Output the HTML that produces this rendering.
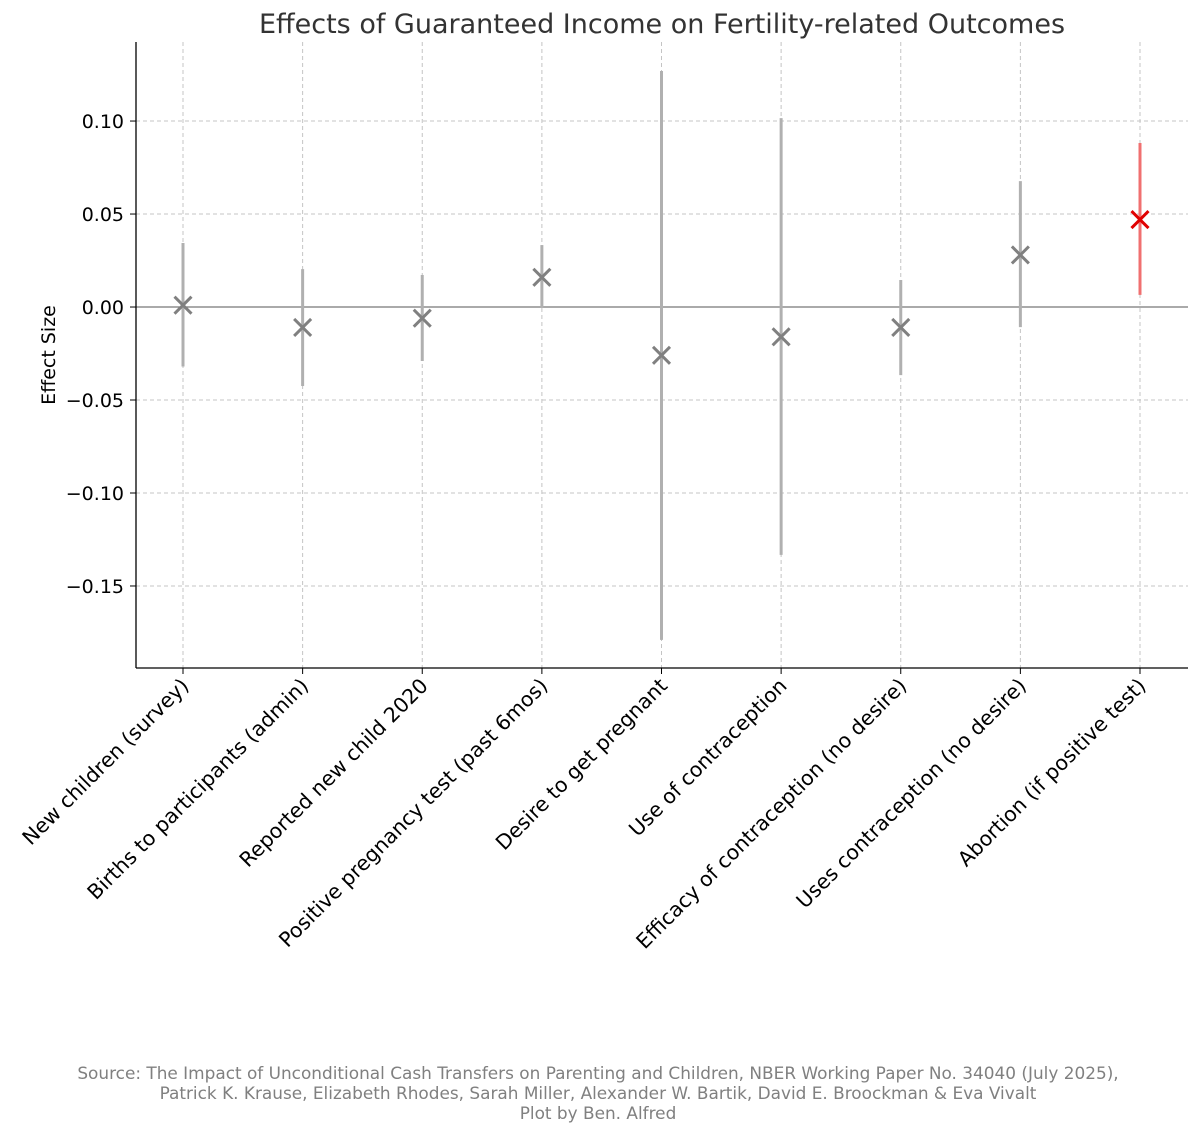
<!DOCTYPE html>
<html><head><meta charset="utf-8"><style>
body{margin:0;background:#fff;}
svg{display:block;font-family:"DejaVu Sans","Liberation Sans",sans-serif;}
</style></head><body>
<svg id="chart" width="1200" height="1134" viewBox="0 0 1200 1134">
<text x="662" y="33" text-anchor="middle" font-size="27" fill="#333">Effects of Guaranteed Income on Fertility-related Outcomes</text>
<g id="grid"></g><g id="marks"></g><g id="axes"></g>
<text transform="translate(55,355) rotate(-90)" text-anchor="middle" font-size="19" fill="#000">Effect Size</text>
<g fill="#808080" font-size="16.9" text-anchor="middle">
<text x="598" y="1079">Source: The Impact of Unconditional Cash Transfers on Parenting and Children, NBER Working Paper No. 34040 (July 2025),</text>
<text x="598" y="1099">Patrick K. Krause, Elizabeth Rhodes, Sarah Miller, Alexander W. Bartik, David E. Broockman &amp; Eva Vivalt</text>
<text x="598" y="1119">Plot by Ben. Alfred</text>
</g>
</svg>
<script>
const categories=["New children (survey)","Births to participants (admin)","Reported new child 2020","Positive pregnancy test (past 6mos)","Desire to get pregnant","Use of contraception","Efficacy of contraception (no desire)","Uses contraception (no desire)","Abortion (if positive test)"];
const estimates=[0.001,-0.011,-0.006,0.016,-0.026,-0.016,-0.011,0.028,0.047];
const ciLow=[-0.032,-0.0425,-0.029,-0.0005,-0.179,-0.1333,-0.0366,-0.0108,0.0065];
const ciHigh=[0.0344,0.0204,0.0172,0.0333,0.1269,0.1016,0.0145,0.0677,0.0882];
const highlighted=[false,false,false,false,false,false,false,false,true];
const yTicks=[0.10,0.05,0.00,-0.05,-0.10,-0.15];
const yTickLabels=["0.10","0.05","0.00","\u22120.05","\u22120.10","\u22120.15"];

const L=136,R=1188,T=42,B=668;
const yMax=0.1425,yMin=-0.1941;
const y=v=>T+(yMax-v)/(yMax-yMin)*(B-T);
const x0=183,x1=1140;
const x=i=>x0+i*(x1-x0)/(categories.length-1);
const NS="http://www.w3.org/2000/svg";
function mk(tag,attrs,parent){const e=document.createElementNS(NS,tag);for(const k in attrs)e.setAttribute(k,attrs[k]);parent.appendChild(e);return e;}
const grid=document.getElementById('grid'),marks=document.getElementById('marks'),axes=document.getElementById('axes');

yTicks.forEach((t,i)=>{
  const g=mk('line',{x1:L,x2:R,y1:y(t),y2:y(t),stroke:'#c4c4c4','stroke-width':1,'stroke-dasharray':'4,3'},grid);
  
  
  mk('line',{x1:L-6,x2:L,y1:y(t),y2:y(t),stroke:'#000','stroke-width':1},axes);
  const tx=mk('text',{x:L-12,y:y(t)+7,'text-anchor':'end','font-size':19,fill:'#000'},axes);
  tx.textContent=yTickLabels[i];
  
  
});
categories.forEach((c,i)=>{
  const g=mk('line',{x1:x(i),x2:x(i),y1:T,y2:B,stroke:'#c4c4c4','stroke-width':1,'stroke-dasharray':'4,3'},grid);
  
  
  mk('line',{x1:x(i),x2:x(i),y1:B,y2:B+6,stroke:'#000','stroke-width':1},axes);
  const tx=mk('text',{'text-anchor':'end','font-size':20.5,fill:'#000',transform:`translate(${x(i)+7},${B+19}) rotate(-45)`},axes);
  tx.textContent=c;
  
  
});
const zl=mk('line',{x1:L,x2:R,y1:y(0),y2:y(0),stroke:'#777','stroke-width':1.3},grid);


const ya=mk('line',{x1:L,x2:L,y1:T,y2:B,stroke:'#000','stroke-width':1.3},axes);


const xa=mk('line',{x1:L,x2:R,y1:B,y2:B,stroke:'#000','stroke-width':1.3},axes);



categories.forEach((c,i)=>{
  const hi=highlighted[i];
  const bar=mk('line',{x1:x(i),x2:x(i),y1:y(ciHigh[i]),y2:y(ciLow[i]),stroke:hi?'#f07070':'#b0b0b0','stroke-width':3},marks);
  
  
  const px=x(i),py=y(estimates[i]),s=8.5;
  const m=mk('path',{d:`M${px-s},${py-s}L${px+s},${py+s}M${px-s},${py+s}L${px+s},${py-s}`,stroke:hi?'#e00000':'#808080','stroke-width':3,fill:'none'},marks);
  
  
});
</script>
</body></html>
